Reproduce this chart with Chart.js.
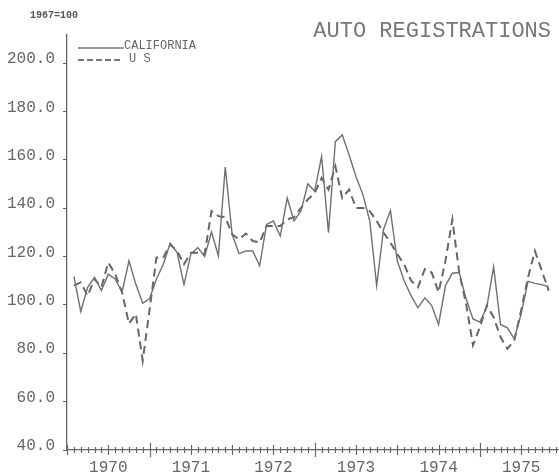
<!DOCTYPE html>
<html>
<head>
<meta charset="utf-8">
<script src="https://cdn.jsdelivr.net/npm/chart.js@4"></script>
<style>
    html, body { margin: 0; padding: 0; background: #fff; }
</style>
</head>
<body>
<canvas id="graficaAutos" width="559" height="476"></canvas>
<script>
// indice 1967=100, mensual (mes 0 = enero 1970)
const years = ["1970", "1971", "1972", "1973", "1974", "1975"];
const yearTickMonths = [6, 18, 30, 42, 54, 66];
const firstMonth = 1; // febrero 1970
const yTicks = [40, 60, 80, 100, 120, 140, 160, 180, 200];

const california = [
    111.8, 97.3, 107.3, 111.4, 105.9, 112.7, 110.7, 105.2, 118.2, 108.6,
    100.7, 102.5, 110.7, 116.8, 125.5, 121.6, 108.4, 121.0, 123.7, 120.0,
    130.1, 120.3, 157.0, 129.2, 121.2, 122.3, 122.3, 116.2, 133.3, 134.7,
    128.5, 144.2, 134.7, 138.8, 150.0, 147.0, 161.4, 129.9, 167.5, 170.3,
    162.0, 153.0, 145.6, 134.7, 108.0, 131.2, 139.0, 118.2, 110.0, 103.8,
    98.8, 102.9, 99.7, 91.9, 108.0, 113.1, 113.4, 102.5, 94.2, 92.9,
    99.0, 115.7, 91.9, 90.5, 86.0, 96.3, 109.7, 108.9, 108.4, 107.5
];
const us = [
    108.0, 109.3, 103.8, 110.7, 107.3, 117.5, 112.7, 105.2, 92.2, 96.3,
    77.0, 98.0, 119.6, 119.6, 125.0, 122.3, 116.8, 121.6, 121.6, 121.0,
    138.8, 136.7, 136.3, 129.2, 127.1, 129.5, 126.4, 125.8, 132.6, 132.6,
    132.6, 135.3, 136.3, 140.1, 143.6, 146.3, 152.5, 147.7, 157.3, 144.2,
    147.7, 140.1, 140.1, 138.8, 134.7, 129.9, 125.8, 121.0, 116.8, 110.0,
    107.3, 114.8, 113.4, 105.2, 118.2, 135.3, 113.4, 100.4, 83.3, 90.8,
    99.7, 94.9, 86.7, 81.9, 85.3, 97.7, 111.4, 122.3, 114.1, 105.9
];

const GRIS = "#666";
const FUENTE = "'Liberation Mono', 'DejaVu Sans Mono', monospace";

function serie(valores) {
    return valores.map((v, i) => ({ x: firstMonth + i, y: v }));
}

// marcas del eje x, titulo y leyenda
const decoracion = {
    id: "decoracion",
    afterDraw(chart) {
        const { ctx, chartArea, scales: { x } } = chart;
        const yb = chartArea.bottom;
        ctx.save();
        ctx.strokeStyle = GRIS;
        ctx.lineWidth = 1.2;
        for (let m = 0; m <= 71; m++) {
            const px = Math.round(x.getPixelForValue(m)) + 0.5;
            let t = 3;
            if (m % 24 === 12) t = 7;
            else if (m % 6 === 0) t = 5;
            ctx.beginPath();
            ctx.moveTo(px, yb - t);
            ctx.lineTo(px, yb + t);
            ctx.stroke();
        }

        ctx.fillStyle = "#777";
        ctx.textBaseline = "alphabetic";
        ctx.textAlign = "right";
        ctx.font = "22px " + FUENTE;
        ctx.fillText("AUTO REGISTRATIONS", 551, 37);

        ctx.textAlign = "left";
        ctx.fillStyle = "#555";
        ctx.font = "bold 10px " + FUENTE;
        ctx.fillText("1967=100", 30, 18);

        // leyenda
        ctx.strokeStyle = "#777";
        ctx.lineWidth = 1.3;
        ctx.beginPath();
        ctx.moveTo(78, 48);
        ctx.lineTo(124, 48);
        ctx.stroke();
        ctx.setLineDash([6, 3]);
        ctx.lineWidth = 1.8;
        ctx.beginPath();
        ctx.moveTo(78, 60);
        ctx.lineTo(122, 60);
        ctx.stroke();
        ctx.setLineDash([]);
        ctx.fillStyle = "#666";
        ctx.font = "12px " + FUENTE;
        ctx.fillText("CALIFORNIA", 124, 49);
        ctx.fillText("U S", 129, 62);
        ctx.restore();
    }
};

const chart = new Chart(document.getElementById("graficaAutos").getContext("2d"), {
    type: "line",
    data: {
        datasets: [
            {
                label: "CALIFORNIA",
                data: serie(california),
                borderColor: "#707070",
                borderWidth: 1.4,
                pointRadius: 0,
                tension: 0,
                fill: false
            },
            {
                label: "U S",
                data: serie(us),
                borderColor: "#666",
                borderWidth: 2,
                borderDash: [8, 5],
                pointRadius: 0,
                tension: 0,
                fill: false
            }
        ]
    },
    options: {
        responsive: false,
        animation: false,
        devicePixelRatio: 1,
        layout: { padding: { top: 35, left: 0, right: 0, bottom: 0 } },
        plugins: {
            legend: { display: false },
            tooltip: { enabled: false }
        },
        scales: {
            x: {
                type: "linear",
                min: 0,
                max: 71.5,
                afterBuildTicks: s => { s.ticks = yearTickMonths.map(v => ({ value: v })); },
                afterFit: s => { s.height = 26; },
                ticks: {
                    callback: v => years[yearTickMonths.indexOf(v)],
                    font: { family: FUENTE, size: 16 },
                    color: GRIS,
                    padding: 8,
                    maxRotation: 0,
                    autoSkip: false
                },
                grid: { display: false, drawTicks: false },
                border: { display: true, color: GRIS, width: 1.3 }
            },
            y: {
                min: 40,
                max: 211.6,
                afterBuildTicks: s => { s.ticks = yTicks.map(v => ({ value: v })); },
                afterFit: s => { s.width = 67; },
                ticks: {
                    callback: v => v.toFixed(1),
                    font: { family: FUENTE, size: 16 },
                    color: GRIS,
                    padding: 8,
                    labelOffset: -4
                },
                grid: { drawOnChartArea: false, tickLength: 4, color: GRIS },
                border: { display: true, color: GRIS, width: 1.3 }
            }
        }
    },
    plugins: [decoracion]
});
</script>
</body>
</html>
